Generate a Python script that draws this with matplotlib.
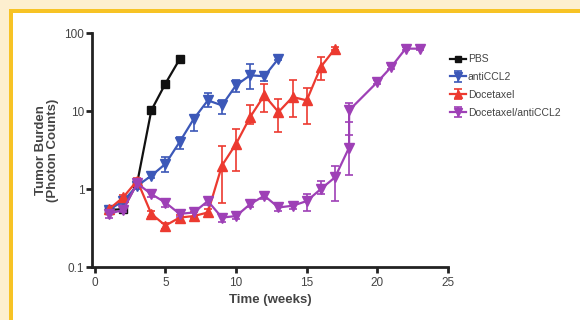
import matplotlib
matplotlib.use('Agg')
import matplotlib.pyplot as plt
from matplotlib.patches import Rectangle

plt.rcParams['font.family'] = ['Liberation Sans', 'DejaVu Sans']

# 데이터
pbs_x = [1, 2, 3, 4, 5, 6]
pbs_y = [0.54, 0.55, 1.2, 10.2, 22.5, 46]

ccl2_x = [1, 2, 3, 4, 5, 6, 7, 8, 9, 10, 11, 12, 13]
ccl2_y = [0.54, 0.7, 1.1, 1.48, 2.1, 4.0, 7.9, 13.7, 11.8, 21.4, 28.7, 27.9, 47]
ccl2_hi = [0.58, 0.75, 1.2, 1.6, 2.56, 4.6, 8.8, 17.0, 13.7, 24.8, 39.5, 30.0, 50]
ccl2_lo = [0.5, 0.65, 1.0, 1.38, 1.64, 3.3, 5.6, 11.2, 9.2, 17.5, 19.4, 24.0, 45]

doc_x = [1, 2, 3, 4, 5, 6, 7, 8, 9, 10, 11, 12, 13, 14, 15, 16, 17]
doc_y = [0.55, 0.78, 1.28, 0.48, 0.34, 0.43, 0.45, 0.5, 2.0, 3.8, 8.4, 15.9, 9.7, 15.1, 13.7, 36.8, 63]
doc_hi = [0.58, 0.85, 1.4, 0.52, 0.37, 0.47, 0.5, 0.56, 3.6, 5.9, 11.8, 22.5, 14.4, 24.8, 20.0, 49, 66]
doc_lo = [0.52, 0.72, 1.18, 0.44, 0.31, 0.4, 0.41, 0.46, 0.67, 1.7, 6.9, 9.7, 5.4, 8.4, 6.9, 24.8, 60]

combo_x = [1, 2, 3, 4, 5, 6, 7, 8, 9, 10, 11, 12, 13, 14, 15, 16, 17, 18, 18, 20, 21, 22, 23]
combo_y = [0.48, 0.54, 1.18, 0.86, 0.67, 0.48, 0.5, 0.7, 0.43, 0.45, 0.64, 0.82, 0.58, 0.61,
           0.7, 1.0, 1.41, 3.4, 10.2, 23.5, 37, 63, 63]
combo_hi = [0.53, 0.6, 1.25, 0.95, 0.75, 0.53, 0.56, 0.78, 0.48, 0.5, 0.7, 0.9, 0.64, 0.67,
            0.86, 1.28, 2.0, 4.9, 12.5, 25, 39, 66, 66]
combo_lo = [0.42, 0.5, 1.1, 0.78, 0.58, 0.44, 0.44, 0.63, 0.38, 0.41, 0.58, 0.74, 0.52, 0.56,
            0.53, 0.86, 0.7, 1.5, 7.2, 22, 35, 60, 60]

x_ticks = [0, 5, 10, 15, 20, 25]
y_ticks = [0.1, 1, 10, 100]
y_tick_labels = ['0.1', '1', '10', '100']

fig = plt.figure(figsize=(5.8, 3.2), dpi=100)
fig.patch.set_facecolor('#FDEFCF')
fig.patches.append(Rectangle((9/580, 0), 1, (320-9)/320, transform=fig.transFigure,
                             facecolor='#F7C325', edgecolor='none', zorder=-2))
fig.patches.append(Rectangle((13/580, 0), 1, (320-13)/320, transform=fig.transFigure,
                             facecolor='white', edgecolor='none', zorder=-1))

ax = fig.add_axes([92/580, 1-267/320, (448-92)/580, (267-33)/320])
ax.set_facecolor('none')

def draw(x, y, lo, hi, color, marker, label):
    if lo is None:
        ax.plot(x, y, color=color, marker=marker, ms=6, lw=1.6, label=label)
        return
    err = [[v - l for v, l in zip(y, lo)], [h - v for v, h in zip(y, hi)]]
    ax.errorbar(x, y, yerr=err, color=color, marker=marker, ms=6.5, lw=1.6,
                elinewidth=1.2, capsize=3, capthick=1.2, label=label)

draw(pbs_x, pbs_y, None, None, '#111111', 's', 'PBS')
draw(ccl2_x, ccl2_y, ccl2_lo, ccl2_hi, '#3C58B8', 'v', 'antiCCL2')
draw(doc_x, doc_y, doc_lo, doc_hi, '#EC3A30', '^', 'Docetaxel')
draw(combo_x, combo_y, combo_lo, combo_hi, '#9E40B6', 'v', 'Docetaxel/antiCCL2')

ax.set_yscale('log')
ax.set_ylim(0.1, 100)
ax.set_xlim(-0.2, 25)
ax.set_yticks(y_ticks)
ax.set_yticklabels(y_tick_labels)
ax.minorticks_off()
ax.set_xticks(x_ticks)
for s in ['top', 'right']:
    ax.spines[s].set_visible(False)
for s in ['left', 'bottom']:
    ax.spines[s].set_linewidth(2)
    ax.spines[s].set_color('#222222')
ax.tick_params(width=2, length=4, color='#222222', labelsize=8.5, labelcolor='#444444', pad=1.5)
ax.tick_params(axis='x', pad=3.5)

ax.set_xlabel('Time (weeks)', fontsize=9.5, fontweight='bold', color='#444444', labelpad=3)
ax.set_ylabel('Tumor Burden\n(Photon Counts)', fontsize=9.5, fontweight='bold',
              color='#444444', labelpad=4, linespacing=1.0)

leg = ax.legend(loc='upper left', bbox_to_anchor=(446/580, 1-50/320),
                bbox_transform=fig.transFigure, frameon=False, fontsize=7.5,
                handlelength=1.5, handletextpad=0.2, labelspacing=0.75, borderaxespad=0,
                markerscale=0.8)
for t in leg.get_texts():
    t.set_color('#444444')

fig.savefig('out.png', dpi=100, facecolor=fig.get_facecolor())
